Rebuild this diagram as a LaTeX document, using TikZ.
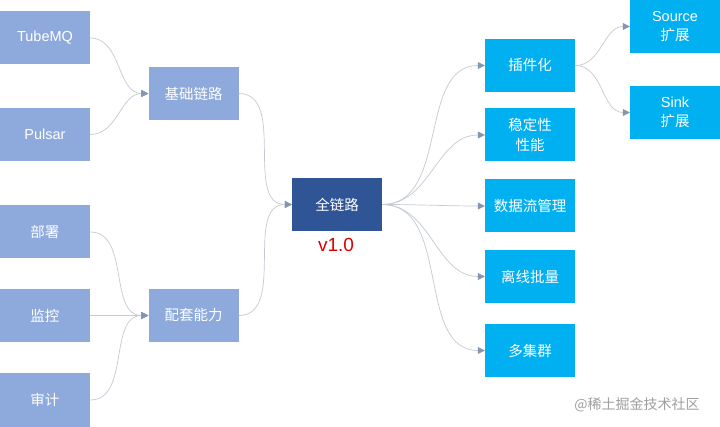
\documentclass[tikz,border=0pt]{standalone}
\usepackage{fontspec}
\setmainfont{Liberation Sans}
\newfontfamily\cjk{Noto Sans CJK SC}
\usepackage{xcolor}
\usetikzlibrary{positioning,arrows.meta}
\definecolor{lightblk}{HTML}{8EA9DB}
\definecolor{darkblk}{HTML}{2F5597}
\definecolor{cyanblk}{HTML}{00B0F0}
\definecolor{linkgray}{HTML}{C4CAD3}
\definecolor{tipgray}{HTML}{8497B0}

\begin{document}
\begin{tikzpicture}[x=1pt, y=-1pt,
    blk/.style={rectangle, minimum width=90pt, minimum height=53pt, inner sep=0pt,
        text=white, align=center, font=\fontsize{14.5}{19.5}\selectfont\cjk},
    lblk/.style={blk, fill=lightblk},
    cblk/.style={blk, fill=darkblk},
    rblk/.style={blk, fill=cyanblk},
    link/.style={draw=linkgray, line width=0.7pt,
        -{Triangle[width=7pt,length=7pt,color=tipgray]}}]
    \useasboundingbox[fill=white] (0,0) rectangle (720,427);

    % fontes (esquerda)
    \node[lblk] (tube) at (45,38) {\fontspec{Liberation Sans}TubeMQ};
    \node[lblk] (pulsar) at (45,134.5) {\fontspec{Liberation Sans}Pulsar};
    \node[lblk] (deploy) at (45,232) {部署};
    \node[lblk] (monitor) at (45,315.5) {监控};
    \node[lblk] (audit) at (45,400) {审计};

    % blocos intermediarios
    \node[lblk] (base) at (193.5,93.5) {基础链路};
    \node[lblk] (support) at (193.5,315.5) {配套能力};

    % centro
    \node[cblk] (full) at (337,204.5) {全链路};
    \node[text=red!85!black, font=\fontsize{19}{22}\selectfont] (ver) at (336,245) {v1.0};

    % direita
    \node[rblk] (plugin) at (530,65.5) {插件化};
    \node[rblk] (stable) at (530,135) {稳定性\\性能};
    \node[rblk] (flow) at (530,206) {数据流管理};
    \node[rblk] (batch) at (530,276.5) {离线批量};
    \node[rblk] (multi) at (530,350.5) {多集群};
    \node[rblk] (source) at (675,26.5) {\fontspec{Liberation Sans}Source\\扩展};
    \node[rblk] (sink) at (675,112.5) {\fontspec{Liberation Sans}Sink\\扩展};

    % ligacoes
    \draw[link] (tube.east) to[out=0, in=180] (base.west);
    \draw[link] (pulsar.east) to[out=0, in=180] (base.west);
    \draw[link] (deploy.east) to[out=0, in=180] (support.west);
    \draw[link] (monitor.east) -- (support.west);
    \draw[link] (audit.east) to[out=0, in=180] (support.west);
    \draw[link] (base.east) to[out=0, in=180] (full.west);
    \draw[link] (support.east) to[out=0, in=180] (full.west);
    \foreach \t in {plugin, stable, flow, batch, multi}
        \draw[link] (full.east) to[out=0, in=180] (\t.west);
    \draw[link] (plugin.east) to[out=0, in=180] (source.west);
    \draw[link] (plugin.east) to[out=0, in=180] (sink.west);

    % marca d'agua
    \node[text=gray!75, font=\fontsize{14}{16}\selectfont\cjk] (mark) at (637,405) {@稀土掘金技术社区};
\end{tikzpicture}
\end{document}
